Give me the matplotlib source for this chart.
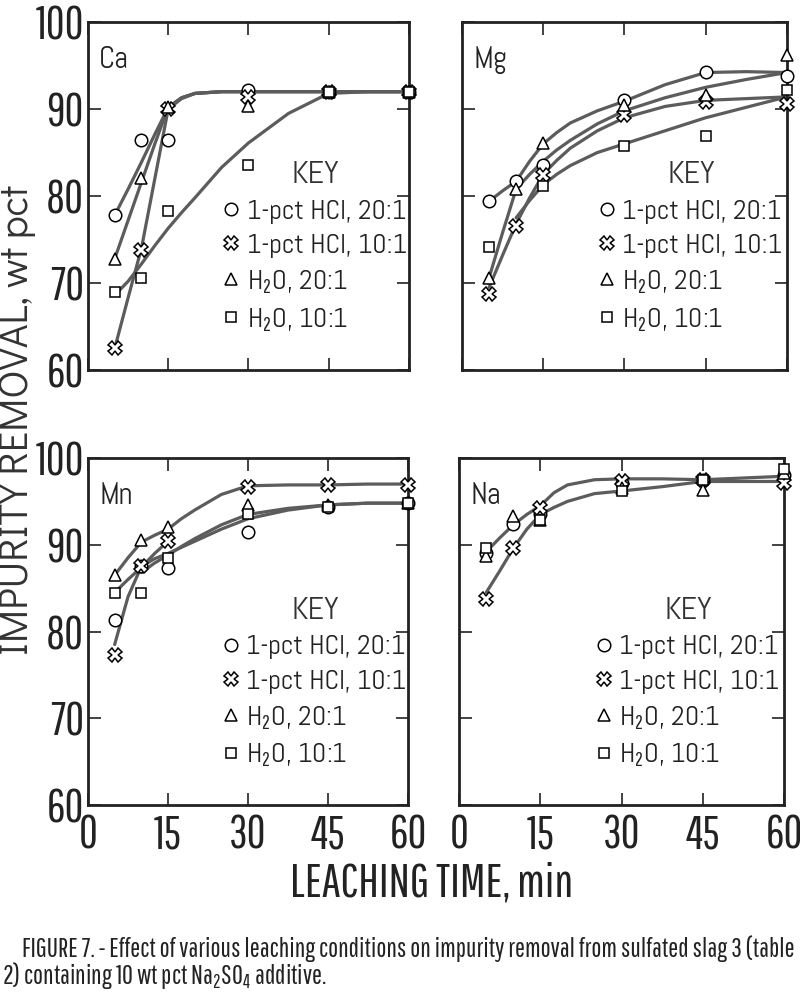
import matplotlib
matplotlib.use('Agg')
import matplotlib.pyplot as plt
import numpy as np

plt.rcParams['font.family'] = ['Pathway Gothic One', 'DejaVu Sans']
plt.rcParams['mathtext.fontset'] = 'custom'
plt.rcParams['mathtext.rm'] = 'Pathway Gothic One'
plt.rcParams['mathtext.default'] = 'rm'

nan = np.nan

# Leaching times of the measured points, min
times = [5, 10, 15, 30, 45, 60]
curve_t = [5, 7.5, 10, 12.5, 15, 17.5, 20, 25, 30, 37.5, 45, 52.5, 60]

series_labels = ['1-pct HCl, 20:1', '1-pct HCl, 10:1', 'H$_2$O, 20:1', 'H$_2$O, 10:1']

# Ca
ca_hcl20 = [77.8, 86.5, 86.5, 92.2, 92.0, 92.0]
ca_hcl10 = [62.5, 73.8, 90.0, 91.4, 92.0, 92.0]
ca_h2o20 = [72.8, 82.1, 90.2, 90.4, 92.0, 92.0]
ca_h2o10 = [69.0, 70.6, 78.3, 83.6, 92.0, 92.0]
ca_curve1 = [77.8, 80.8, 83.9, 87.1, 90.2, 91.3, 91.8, 92.0, 92.0, 92.0, 92.0, 92.0, 92.0]
ca_curve2 = [72.8, 77.2, 81.6, 86.0, 90.2, 91.3, 91.8, 92.0, 92.0, 92.0, 92.0, 92.0, 92.0]
ca_curve3 = [62.5, 68.3, 74.0, 82.0, 90.0, 91.2, 91.8, 92.0, 92.0, 92.0, 92.0, 92.0, 92.0]
ca_curve4 = [68.6, 70.2, 72.2, 74.3, 76.3, 78.1, 79.8, 83.3, 86.1, 89.5, 91.8, 92.0, 92.0]

# Mg
mg_hcl20 = [79.4, 81.7, 83.6, 91.0, 94.3, 93.8]
mg_hcl10 = [68.7, 76.5, 82.4, 89.3, 90.8, 90.6]
mg_h2o20 = [70.6, 80.8, 86.1, 90.5, 91.6, 96.2]
mg_h2o10 = [74.2, nan, 81.1, 85.8, 86.9, 92.2]
mg_curve1 = [79.4, 80.6, 81.7, 84.0, 86.0, 87.3, 88.4, 89.8, 90.9, 92.8, 94.2, 94.3, 94.2]
mg_curve2 = [70.6, 75.8, 80.8, 82.5, 84.0, 85.3, 86.4, 88.3, 89.8, 91.3, 92.5, 93.4, 94.2]
mg_curve3 = [69.5, 73.2, 76.8, 79.8, 82.5, 84.1, 85.5, 87.5, 89.0, 90.3, 91.0, 91.2, 91.4]
mg_curve4 = [nan, nan, 77.5, 79.5, 81.3, 82.5, 83.5, 85.0, 86.0, 87.5, 89.0, 90.2, 91.4]

# Mn
mn_hcl20 = [81.3, 87.5, 87.3, 91.5, 94.4, 94.8]
mn_hcl10 = [77.3, 87.5, 90.4, 96.7, 96.9, 96.9]
mn_h2o20 = [86.5, 90.6, 92.1, 94.6, 94.6, 94.8]
mn_h2o10 = [84.4, 84.4, 88.5, 93.5, 94.4, 94.8]
mn_curve1 = [86.5, 88.5, 90.3, 91.1, 91.8, 93.0, 94.0, 95.8, 96.8, 96.9, 96.9, 97.0, 97.0]
mn_curve2 = [84.5, 86.0, 87.4, 89.0, 90.4, nan, nan, nan, nan, nan, nan, nan, nan]
mn_curve3 = [78.5, 84.0, 87.5, 88.4, 89.0, 89.7, 90.4, 91.8, 93.0, 94.0, 94.6, 94.8, 94.8]
mn_curve4 = [nan, nan, 86.8, 87.9, 88.8, 89.8, 90.7, 92.3, 93.5, 94.2, 94.6, 94.8, 94.8]

# Na
na_hcl20 = [89.0, 92.4, 93.5, 97.1, 97.5, 98.1]
na_hcl10 = [83.8, 89.6, 94.2, 97.3, 97.5, 97.1]
na_h2o20 = [88.7, 93.3, 92.9, 96.5, 96.3, 98.3]
na_h2o10 = [89.6, nan, 92.9, 96.2, 97.5, 98.7]
na_curve1 = [89.2, 90.8, 92.3, 93.5, 94.5, 96.0, 96.9, 97.5, 97.6, 97.6, 97.5, 97.7, 97.9]
na_curve2 = [84.5, 87.0, 89.6, 91.8, 93.5, 94.3, 95.0, 95.9, 96.2, 96.7, 97.3, 97.3, 97.3]

panels = [
    ('Ca', [ca_hcl20, ca_hcl10, ca_h2o20, ca_h2o10], [ca_curve1, ca_curve2, ca_curve3, ca_curve4]),
    ('Mg', [mg_hcl20, mg_hcl10, mg_h2o20, mg_h2o10], [mg_curve1, mg_curve2, mg_curve3, mg_curve4]),
    ('Mn', [mn_hcl20, mn_hcl10, mn_h2o20, mn_h2o10], [mn_curve1, mn_curve2, mn_curve3, mn_curve4]),
    ('Na', [na_hcl20, na_hcl10, na_h2o20, na_h2o10], [na_curve1, na_curve2]),
]

markers = ['o', 'X', '^', 's']
marker_sizes = [9, 9.5, 9, 7.5]
key_font = ['Abel', 'DejaVu Sans']

fig = plt.figure(figsize=(8, 9.99), dpi=100)
axes_boxes = [
    (0.110, 0.6296, 0.401, 0.3483),
    (0.5775, 0.6296, 0.406, 0.3483),
    (0.110, 0.1942, 0.400, 0.3473),
    (0.574, 0.1942, 0.406, 0.3473),
]
legend_anchor = [(0.425, 0.60), (0.425, 0.60), (0.425, 0.60), (0.425, 0.60)]

for i, (name, points, curves) in enumerate(panels):
    ax = fig.add_axes(axes_boxes[i])
    for curve in curves:
        ax.plot(curve_t, curve, color='#5c5c5c', lw=2.3, zorder=2, solid_capstyle='round')
    handles = []
    for vals, m, ms, lab in zip(points, markers, marker_sizes, series_labels):
        h, = ax.plot(times, vals, linestyle='none', marker=m, ms=ms, mfc='white',
                     mec='black', mew=1.1, zorder=3, clip_on=False, label=lab)
        handles.append(h)

    ax.set_xlim(0, 60)
    ax.set_ylim(60, 100)
    ax.set_xticks([0, 15, 30, 45, 60])
    ax.set_yticks([60, 70, 80, 90, 100])
    ax.tick_params(direction='in', length=9, width=1.2, top=True, right=True,
                   labelsize=33, colors='#222222')
    ax.tick_params(axis='x', pad=6)
    ax.tick_params(axis='y', pad=3)
    for sp in ax.spines.values():
        sp.set_linewidth(2)
        sp.set_color('#222222')
    if i % 2 == 1:
        ax.tick_params(labelleft=False)
    if i < 2:
        ax.tick_params(labelbottom=False)

    ax.text(0.035, 0.93, name, transform=ax.transAxes, fontsize=22, va='top', ha='left',
            color='#222222', family=key_font)

    leg = ax.legend(handles=handles, title='KEY', loc='upper left', bbox_to_anchor=legend_anchor[i],
                    frameon=False, prop={'family': key_font, 'size': 20},
                    title_fontproperties={'family': key_font, 'size': 23}, handlelength=0.5,
                    handletextpad=0.3, labelspacing=0.36, borderpad=0, borderaxespad=0)
    leg.get_title().set_color('#333333')
    for t in leg.get_texts():
        t.set_color('#222222')

fig.text(0.021, 0.58, 'IMPURITY REMOVAL, wt pct', rotation=90, rotation_mode='anchor', fontsize=29,
         family=['Didact Gothic', 'DejaVu Sans'], ha='center', va='center', color='#333333')
fig.text(0.54, 0.116, 'LEACHING TIME, min', fontsize=34, ha='center', va='center', color='#222222')

fig.text(0.027, 0.05, 'FIGURE 7. - Effect of various leaching conditions on impurity removal from sulfated slag 3 (table',
         fontsize=19.2, ha='left', va='center', color='#222222')
fig.text(0.003, 0.024, '2) containing 10 wt pct Na$_2$SO$_4$ additive.', fontsize=19.2, ha='left', va='center',
         color='#222222')

fig.savefig('out.png', dpi=100)
